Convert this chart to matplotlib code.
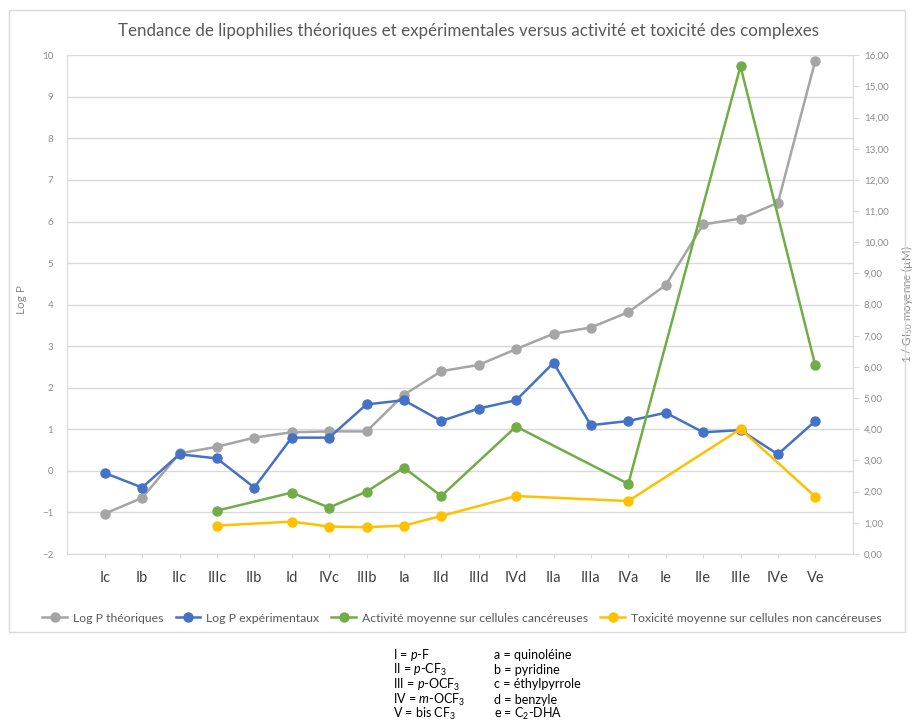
import matplotlib
matplotlib.use("Agg")
import matplotlib.pyplot as plt
from matplotlib.lines import Line2D
from matplotlib.patches import Rectangle
from matplotlib.ticker import FuncFormatter, MultipleLocator

plt.rcParams['font.family'] = ['Lato', 'DejaVu Sans']
plt.rcParams['mathtext.fontset'] = 'custom'
plt.rcParams['mathtext.rm'] = 'Lato'
plt.rcParams['mathtext.it'] = 'Lato:italic'
plt.rcParams['mathtext.bf'] = 'Lato:bold'

categories = ["Ic", "Ib", "IIc", "IIIc", "IIb", "Id", "IVc", "IIIb", "Ia", "IId",
              "IIId", "IVd", "IIa", "IIIa", "IVa", "Ie", "IIe", "IIIe", "IVe", "Ve"]
logp_theo = [-1.03, -0.65, 0.42, 0.58, 0.80, 0.93, 0.95, 0.95, 1.83, 2.40,
             2.55, 2.93, 3.30, 3.45, 3.82, 4.47, 5.93, 6.07, 6.45, 9.87]
logp_exp = [-0.05, -0.40, 0.40, 0.30, -0.40, 0.80, 0.80, 1.60, 1.70, 1.20,
            1.50, 1.70, 2.60, 1.10, 1.20, 1.40, 0.93, 0.98, 0.40, 1.20]
activite = [None, None, None, 1.39, None, 1.97, 1.49, 2.00, 2.77, 1.86,
            None, 4.09, None, None, 2.25, None, None, 15.65, None, 6.05]
toxicite = [None, None, None, 0.91, None, 1.04, 0.88, 0.86, 0.91, 1.22,
            None, 1.86, None, None, 1.70, None, None, 4.01, None, 1.84]

grey = "#A5A5A5"
blue = "#4472C4"
green = "#70AD47"
yellow = "#FFC000"
grid_c = "#D9D9D9"
lab_c = "#8C8C8C"

fig = plt.figure(figsize=(9.14, 7.24), dpi=100)
fig.patch.set_facecolor("white")

# chart area border
fig.add_artist(Rectangle((9 / 914, 1 - 632 / 724), (905 - 9) / 914, (632 - 10) / 724,
                         transform=fig.transFigure, fill=False, edgecolor=grid_c, lw=1))

ax = fig.add_axes([67.3 / 914, 1 - 554 / 724, (852.7 - 67.3) / 914, (554 - 55.3) / 724])
ax2 = ax.twinx()

x = list(range(1, len(categories) + 1))

ax.set_xlim(0, 21)
ax.set_ylim(-2, 10)
ax2.set_ylim(0, 16)
ax.yaxis.set_major_locator(MultipleLocator(1))
ax2.yaxis.set_major_locator(MultipleLocator(1))
ax.grid(axis="y", color=grid_c, lw=1)
ax.set_axisbelow(True)

lw = 1.8
ms = 6.5
ax.plot(x, logp_theo, color=grey, lw=lw, marker="o", ms=ms, zorder=3)
ax.plot(x, logp_exp, color=blue, lw=lw, marker="o", ms=ms, zorder=4)

ax_pts = [(xi, v) for xi, v in zip(x, activite) if v is not None]
tx_pts = [(xi, v) for xi, v in zip(x, toxicite) if v is not None]
ax2.plot([p[0] for p in ax_pts], [p[1] for p in ax_pts], color=green, lw=lw, marker="o", ms=ms, zorder=3)
ax2.plot([p[0] for p in tx_pts], [p[1] for p in tx_pts], color=yellow, lw=lw, marker="o", ms=ms, zorder=4)

for a in (ax, ax2):
    for s in a.spines.values():
        s.set_color(grid_c)
    a.spines["top"].set_visible(False)
ax2.spines["left"].set_visible(False)
ax.spines["right"].set_visible(False)
ax2.spines["bottom"].set_visible(False)

ax.set_xticks(x)
ax.set_xticklabels(categories, fontsize=10.5, color="#404040")
ax.tick_params(axis="x", length=3, color=grid_c, pad=9)
ax.tick_params(axis="y", length=0, pad=10, labelsize=7, labelcolor=lab_c)
ax2.tick_params(axis="y", length=4, color=grid_c, pad=4, labelsize=7, labelcolor=lab_c)
ax2.yaxis.set_major_formatter(FuncFormatter(lambda v, p: f"{v:.2f}".replace(".", ",")))

ax.set_ylabel("Log P", fontsize=8.5, color=lab_c)
ax.yaxis.set_label_coords((27 - 67.3) / 785.4, 0.51)
ax2.set_ylabel(r"1 / GI$_{50}$ moyenne (µM)", fontsize=8.3, color=lab_c, rotation=90)
ax2.yaxis.set_label_coords((899 - 67.3) / 785.4, 0.50)

fig.text(468 / 914, 1 - 31 / 724,
         "Tendance de lipophilies théoriques et expérimentales versus activité et toxicité des complexes",
         ha="center", va="center", fontsize=12.2, color="#595959")

handles = [Line2D([], [], color=c, lw=lw, marker="o", ms=ms) for c in (grey, blue, green, yellow)]
labels = ["Log P théoriques", "Log P expérimentaux", "Activité moyenne sur cellules cancéreuses",
          "Toxicité moyenne sur cellules non cancéreuses"]
fig.legend(handles, labels, loc="center", bbox_to_anchor=(462 / 914, 1 - 618 / 724), ncol=4,
           frameon=False, fontsize=8.8, handlelength=2.0, columnspacing=1.0, handletextpad=0.5,
           labelcolor="#595959")

col1 = [r"I = $\mathit{p}$-F", r"II = $\mathit{p}$-CF$_3$", r"III = $\mathit{p}$-OCF$_3$",
        r"IV = $\mathit{m}$-OCF$_3$", r"V = bis CF$_3$"]
col2 = ["a = quinoléine", "b = pyridine", "c = éthylpyrrole", "d = benzyle", r"e = C$_2$-DHA"]
ys = [655, 669.5, 684.5, 699.5, 714]
for t1, t2, yy in zip(col1, col2, ys):
    fig.text(393 / 914, 1 - yy / 724, t1, ha="left", va="center", fontsize=9, color="black")
    fig.text(494 / 914, 1 - yy / 724, t2, ha="left", va="center", fontsize=9, color="black")

fig.savefig("out.png", dpi=100, facecolor="white")
